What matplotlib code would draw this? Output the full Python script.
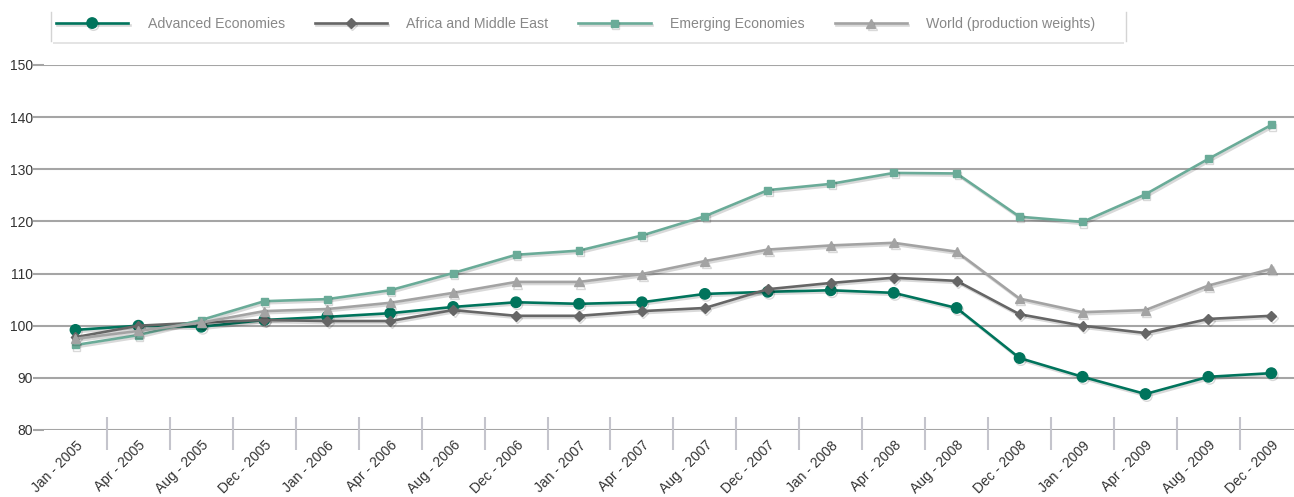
import matplotlib.pyplot as plt
import matplotlib.patheffects as pe
from matplotlib.patches import Rectangle
from matplotlib.lines import Line2D

# Price index by region, 2005-2009
months = ['Jan - 2005', 'Apr - 2005', 'Aug - 2005', 'Dec - 2005',
          'Jan - 2006', 'Apr - 2006', 'Aug - 2006', 'Dec - 2006',
          'Jan - 2007', 'Apr - 2007', 'Aug - 2007', 'Dec - 2007',
          'Jan - 2008', 'Apr - 2008', 'Aug - 2008', 'Dec - 2008',
          'Jan - 2009', 'Apr - 2009', 'Aug - 2009', 'Dec - 2009']

advanced = [99.2, 100.0, 99.8, 101.1, 101.7, 102.4, 103.6, 104.5, 104.2, 104.5,
            106.1, 106.5, 106.8, 106.3, 103.4, 93.8, 90.2, 86.9, 90.2, 90.9]
africa_me = [97.8, 100.0, 100.6, 101.1, 100.9, 100.9, 103.0, 101.9, 101.9, 102.8,
             103.4, 107.0, 108.2, 109.2, 108.6, 102.2, 100.0, 98.6, 101.3, 101.9]
emerging = [96.3, 98.2, 101.1, 104.7, 105.1, 106.8, 110.1, 113.6, 114.4, 117.3,
            121.0, 126.0, 127.2, 129.3, 129.2, 120.9, 119.9, 125.2, 132.0, 138.5]
world = [97.5, 99.0, 100.6, 102.8, 103.2, 104.4, 106.3, 108.4, 108.4, 109.9,
         112.4, 114.6, 115.4, 115.9, 114.2, 105.2, 102.6, 103.0, 107.7, 110.9]

series = [
    ('Advanced Economies', advanced, '#00745c', 'o', 7.5),
    ('Africa and Middle East', africa_me, '#666666', 'D', 5),
    ('Emerging Economies', emerging, '#6aab98', 's', 5),
    ('World (production weights)', world, '#a3a3a3', '^', 6.5),
]

plt.rcParams['font.family'] = ['Liberation Sans', 'DejaVu Sans']

fig = plt.figure(figsize=(12.94, 4.97), dpi=100)
W, H = 1294, 497
ax = fig.add_axes([44 / W, (H - 430) / H, (1294 - 44) / W, (430 - 65) / H])

x = list(range(len(months)))
shadow = [pe.SimpleLineShadow(offset=(1, -1.5), alpha=0.15, shadow_color='black'),
          pe.Normal()]
for name, vals, color, marker, ms in series:
    ax.plot(x, vals, color=color, lw=1.9, marker=marker, ms=ms,
            label=name, path_effects=shadow, zorder=3)

ax.set_ylim(80, 150)
ax.set_xlim(-0.5, 19.36)
ax.set_yticks(range(80, 151, 10))
ax.grid(axis='y', color='#a5a5a5', lw=1.5, zorder=1)
ax.tick_params(axis='y', length=8, width=1.5, color='#a5a5a5',
               labelsize=10, labelcolor='#333333', pad=0)
for s in ax.spines.values():
    s.set_visible(False)

ax.set_xticks(x)
ax.set_xticklabels(months, rotation=45, ha='right', va='top',
                   rotation_mode='anchor', fontsize=10, color='#333333')
ax.tick_params(axis='x', length=0, pad=6)

# category separators below the axis
bounds = [i + 0.5 for i in x[:-1]]
ax.vlines(bounds, -20 / 365, 13 / 365, transform=ax.get_xaxis_transform(),
          colors='#c4c4cc', lw=1.5, clip_on=False, zorder=2)

# legend box: side borders and a soft bottom shadow
for bx in (51, 1126):
    fig.add_artist(Line2D([bx / W, bx / W], [1 - 12 / H, 1 - 41 / H],
                          transform=fig.transFigure, color='#d4d4d4', lw=1))
fig.patches.append(Rectangle((53 / W, 1 - 44 / H), (1124 - 53) / W, 2.5 / H,
                             transform=fig.transFigure, facecolor='#e4e4e4',
                             edgecolor='none', zorder=0))
leg = fig.legend(loc='center left', bbox_to_anchor=(56 / W, 1 - 24 / H),
                 ncol=4, frameon=False, fontsize=10.2, borderpad=0,
                 borderaxespad=0, handlelength=5.1, handletextpad=1.38,
                 columnspacing=2.1)
for t in leg.get_texts():
    t.set_color('#888888')

fig.savefig('out.png', dpi=100)
